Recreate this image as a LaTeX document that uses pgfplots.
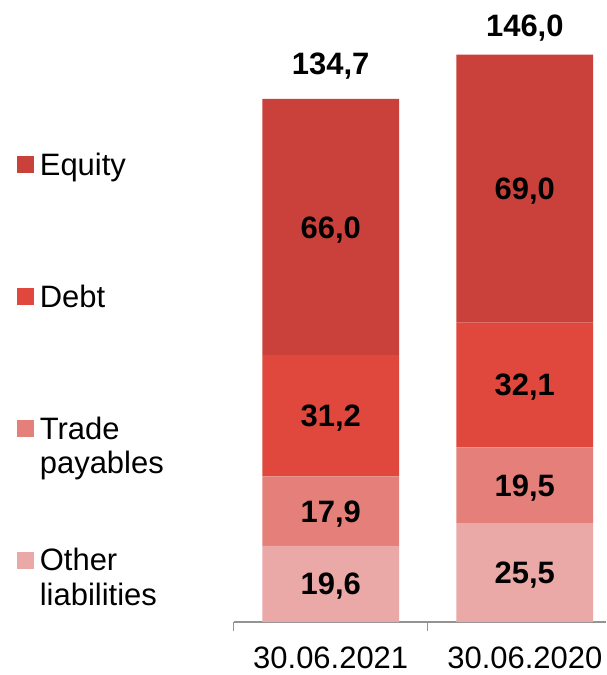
\documentclass[border=0pt]{standalone}
\usepackage{pgfplots}
\pgfplotsset{compat=1.18}
\usepackage{fontspec}
\setmainfont{Liberation Sans}

\definecolor{cEquity}{HTML}{C9413A}
\definecolor{cDebt}{HTML}{E0473D}
\definecolor{cTrade}{HTML}{E47F7A}
\definecolor{cOther}{HTML}{EAA8A6}

\pgfplotsset{
  dims/.style={x=194.4pt, y=3.89pt, xmin=-0.5, xmax=1.417, ymin=0, ymax=160, clip=false},
  lbl/.style={draw=none, mark=none, nodes near coords, point meta=explicit symbolic,
    every node near coord/.style={anchor=base, yshift=-11pt, inner sep=0pt,
      font=\fontsize{31}{35}\selectfont\bfseries}},
}
% two-line legend text, baseline on the first line
\newcommand{\two}[2]{\vtop{\hbox{#1}\hbox{#2}}}

\begin{document}
\begin{tikzpicture}
\begin{axis}[name=ax, dims,
    ybar stacked, bar width=137pt,
    axis y line=none, axis x line*=bottom,
    x axis line style={draw=gray!85, line width=1.3pt, -},
    xtick={0,1}, xticklabels={30.06.2021,30.06.2020},
    major tick length=0pt,
    minor xtick={-0.5,0.5}, minor tick length=9pt, tick align=outside,
    minor tick style={draw=gray!85, line width=1.3pt},
    xticklabel style={anchor=base, yshift=-46pt, inner sep=0pt, font=\fontsize{31}{35}\selectfont},
    reverse legend,
    legend image code/.code={\fill[#1] (0pt,2pt) rectangle (17pt,19pt);},
    legend style={draw=none, fill=none, inner sep=0pt, column sep=6pt, row sep=102pt,
      at={(-0.583,0.7544)}, anchor=north west,
      font=\fontsize{31}{35}\selectfont,
      nodes={inner sep=0pt, text height=22pt, text depth=8pt, anchor=base west}},
  ]
\addplot[fill=cOther, draw=none] coordinates {(0,19.6) (1,25.5)};
\addplot[fill=cTrade, draw=none] coordinates {(0,17.9) (1,19.5)};
\addplot[fill=cDebt, draw=none] coordinates {(0,31.2) (1,32.1)};
\addplot[fill=cEquity, draw=none] coordinates {(0,66.0) (1,69.0)};
\legend{\two{Other}{liabilities}, \two{Trade}{payables}, Debt, Equity}
\end{axis}
\begin{axis}[dims, hide axis, at={(ax.south west)}, anchor=south west]
\addplot[lbl] coordinates {(0,9.8) [19,6] (1,12.75) [25,5]};
\addplot[lbl] coordinates {(0,28.55) [17,9] (1,35.25) [19,5]};
\addplot[lbl] coordinates {(0,53.1) [31,2] (1,61.05) [32,1]};
\addplot[lbl] coordinates {(0,101.7) [66,0] (1,111.6) [69,0]};
\addplot[lbl, every node near coord/.append style={yshift=35pt}] coordinates {(0,134.7) [134,7]};
\addplot[lbl, every node near coord/.append style={yshift=29pt}] coordinates {(1,146.0) [146,0]};
\end{axis}
\pgfresetboundingbox
\path[use as bounding box] ([shift={(-234pt,-53pt)}]ax.south west) rectangle ([shift={(373pt,623pt)}]ax.south west);
\end{tikzpicture}
\end{document}
